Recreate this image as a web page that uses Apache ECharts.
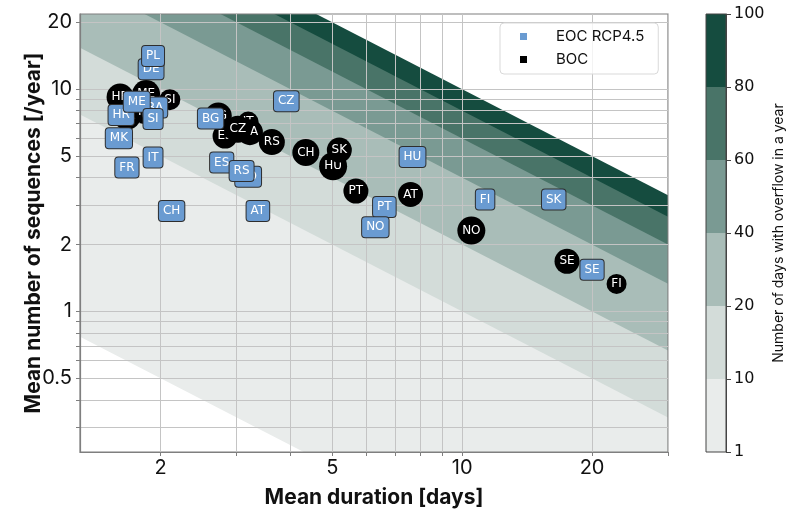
<!DOCTYPE html>
<html><head><meta charset="utf-8">
<script src="https://cdn.jsdelivr.net/npm/echarts@6/dist/echarts.min.js"></script>
<style>html,body{margin:0;padding:0;background:#fff}#c{width:787px;height:516px}</style>
</head><body><div id="c"></div>
<script>
// ---- axis ticks ----
const xTickLabels = [2, 5, 10, 20];
const xGridValues = [2, 3, 4, 5, 6, 7, 8, 9, 10, 20, 30];
const yTickLabels = [0.5, 1, 2, 5, 10, 20];
const yGridValues = [0.3, 0.4, 0.5, 0.6, 0.7, 0.8, 0.9, 1, 2, 3, 4, 5, 6, 7, 8, 9, 10, 20];
const xRange = [1.3, 30];
const yRange = [0.233, 21.8];

// ---- contour levels (days with overflow = duration * sequences) ----
const levels = [1, 10, 20, 40, 60, 80, 100];
const levelColors = ['#e9eceb', '#d3dcd9', '#a9bdb8', '#7a9a93', '#497468', '#154c3f'];

// ---- EOC RCP4.5 ----
const eocNames    = ['DE', 'PL', 'HR', 'BA', 'ME', 'SI', 'MK', 'FR', 'IT', 'CH', 'BG', 'ES', 'RO', 'RS', 'AT', 'CZ', 'HU', 'PT', 'NO', 'FI', 'SK', 'SE'];
const eocDuration = [1.90, 1.92, 1.62, 1.94, 1.76, 1.92, 1.60, 1.67, 1.92, 2.12, 2.61, 2.77, 3.19, 3.08, 3.36, 3.91, 7.67, 6.60, 6.29, 11.3, 16.3, 20.0];
const eocFreq     = [12.3, 14.1, 7.65, 8.28, 8.78, 7.34, 6.02, 4.44, 4.93, 2.83, 7.39, 4.68, 4.04, 4.29, 2.83, 8.82, 4.96, 2.95, 2.39, 3.19, 3.19, 1.54];

// ---- BOC ----
const bocNames    = ['HR', 'MK', 'ME', 'PL', 'SI', 'BG', 'ES', 'IT', 'BA', 'CZ', 'RS', 'CH', 'HU', 'SK', 'PT', 'AT', 'NO', 'SE', 'FI'];
const bocDuration = [1.61, 1.67, 1.85, 1.84, 2.10, 2.72, 2.82, 3.19, 3.22, 3.02, 3.62, 4.34, 5.02, 5.19, 5.67, 7.59, 10.5, 17.5, 22.8];
const bocFreq     = [9.22, 7.59, 9.51, 7.89, 8.97, 7.57, 6.15, 7.11, 6.41, 6.61, 5.78, 5.19, 4.50, 5.32, 3.48, 3.36, 2.31, 1.68, 1.33];

const L = Math.log10;
const fmt = v => String(+Math.pow(10, v).toPrecision(3));
const cv = document.createElement('canvas').getContext('2d');
cv.font = '12px "DejaVu Sans"';
const tw = s => cv.measureText(s).width;

const EOC_COLOR = '#6a9bd1';
const axisFont = 'Inter';

// contour bands: draw from the highest level downward, each filling to the bottom
const contourSeries = [];
for (let i = levels.length - 1; i >= 0; i--) {
  const c = levels[i];
  const color = i > 0 ? levelColors[i - 1] : '#ffffff';
  contourSeries.push({
    type: 'line', xAxisIndex: 0, yAxisIndex: 0, silent: true, z: 1,
    symbol: 'none', animation: false, clip: true,
    lineStyle: { width: 0 },
    areaStyle: { color: color, opacity: 1, origin: 'start' },
    data: [[L(xRange[0]), L(c) - L(xRange[0])], [L(xRange[1]), L(c) - L(xRange[1])]]
  });
}

const bocData = bocNames.map((n, i) => {
  const d = Math.round(tw(n) + 10);
  return {
    name: n, value: [L(bocDuration[i]), L(bocFreq[i])],
    label: { width: d, height: d, lineHeight: d, borderRadius: d / 2 }
  };
});
const eocData = eocNames.map((n, i) => ({ name: n, value: [L(eocDuration[i]), L(eocFreq[i])] }));

// colorbar
const cbSeries = levelColors.map((col, i) => ({
  type: 'bar', xAxisIndex: 1, yAxisIndex: 1, stack: 'cb', silent: true,
  barWidth: '100%', data: [1], itemStyle: { color: col, opacity: 1 }, animation: false
}));

const chart = echarts.init(document.getElementById('c'), null, { renderer: 'canvas' });
chart.setOption({
  animation: false,
  backgroundColor: '#ffffff',
  grid: [
    { left: 80, top: 14, width: 588, height: 438, show: true, borderColor: '#7f7f7f', borderWidth: 1.2, z: 3 },
    { left: 706, top: 14, width: 22, height: 438, show: true, borderColor: '#444', borderWidth: 1, z: 3 }
  ],
  xAxis: [
    {
      type: 'value', gridIndex: 0, min: L(xRange[0]), max: L(xRange[1]), z: 3,
      axisLine: { show: true, onZero: false, lineStyle: { color: '#7f7f7f', width: 1.2 } },
      axisTick: { show: true, customValues: xGridValues.map(L), length: 4, lineStyle: { color: '#7f7f7f' } },
      axisLabel: { customValues: xTickLabels.map(L), formatter: fmt, fontSize: 20, color: '#111', fontFamily: axisFont, margin: 6 },
      splitLine: { show: true, lineStyle: { color: '#c4c4c4', width: 1 } },
      name: 'Mean duration [days]', nameLocation: 'middle', nameGap: 35, nameMoveOverlap: false,
      nameTextStyle: { fontSize: 21, fontWeight: 'bold', color: '#111', fontFamily: axisFont }
    },
    { type: 'category', gridIndex: 1, data: ['cb'], show: false }
  ],
  yAxis: [
    {
      type: 'value', gridIndex: 0, min: L(yRange[0]), max: L(yRange[1]), z: 3,
      axisLine: { show: true, onZero: false, lineStyle: { color: '#7f7f7f', width: 1.2 } },
      axisTick: { show: true, customValues: yGridValues.map(L), length: 4, lineStyle: { color: '#7f7f7f' } },
      axisLabel: { customValues: yTickLabels.map(L), formatter: fmt, fontSize: 20, color: '#111', fontFamily: axisFont, margin: 8 },
      splitLine: { show: true, lineStyle: { color: '#c4c4c4', width: 1 } },
      name: 'Mean number of sequences [/year]', nameLocation: 'middle', nameGap: 36, nameMoveOverlap: false,
      nameTextStyle: { fontSize: 21, fontWeight: 'bold', color: '#111', fontFamily: axisFont }
    },
    {
      type: 'value', gridIndex: 1, min: 0, max: levels.length - 1, interval: 1, position: 'right', z: 3,
      axisLine: { show: true, lineStyle: { color: '#444', width: 1 } },
      axisTick: { show: true, length: 5, lineStyle: { color: '#444' } },
      axisLabel: { formatter: v => String(levels[v]), fontSize: 16, color: '#111', fontFamily: 'DejaVu Sans', margin: 8 },
      splitLine: { show: false },
      name: 'Number of days with overflow in a year', nameLocation: 'middle', nameRotate: 90, nameGap: 46,
      nameTextStyle: { fontSize: 14, color: '#111', fontFamily: axisFont }
    }
  ],
  legend: {
    left: 500, top: 23, orient: 'vertical',
    data: [
      { name: 'EOC RCP4.5', icon: 'rect', itemStyle: { color: EOC_COLOR, opacity: 1 } },
      { name: 'BOC', icon: 'rect', itemStyle: { color: '#000000', opacity: 1 } }
    ],
    itemWidth: 7, itemHeight: 7, itemGap: 8,
    padding: [6, 14, 7, 20],
    backgroundColor: 'rgba(255,255,255,0.8)', borderColor: '#d9d9d9', borderWidth: 1, borderRadius: 4,
    formatter: n => '{t|' + n + '}',
    textStyle: { rich: { t: { fontSize: 15, fontFamily: axisFont, color: '#111', padding: [0, 0, 0, 24], lineHeight: 16 } } },
    selectedMode: false
  },
  series: [
    ...contourSeries,
    {
      name: 'BOC', type: 'scatter', xAxisIndex: 0, yAxisIndex: 0, z: 5,
      symbolSize: 0.1, itemStyle: { color: 'rgba(0,0,0,0)', opacity: 1 },
      label: {
        show: true, position: 'inside', formatter: '{b}', color: '#fff', fontSize: 12, opacity: 1,
        fontFamily: 'DejaVu Sans', backgroundColor: '#000', align: 'center', verticalAlign: 'middle'
      },
      data: bocData
    },
    {
      name: 'EOC RCP4.5', type: 'scatter', xAxisIndex: 0, yAxisIndex: 0, z: 6,
      symbolSize: 0.1, itemStyle: { color: 'rgba(0,0,0,0)', opacity: 1 },
      label: {
        show: true, position: 'inside', formatter: '{b}', color: '#fff', fontSize: 12, lineHeight: 14, opacity: 1,
        fontFamily: 'DejaVu Sans', backgroundColor: EOC_COLOR, borderColor: '#2e2e2e', borderWidth: 1,
        borderRadius: 3, padding: [3, 4, 3, 4], align: 'center', verticalAlign: 'middle'
      },
      data: eocData
    },
    ...cbSeries
  ]
});
</script>
</body></html>
